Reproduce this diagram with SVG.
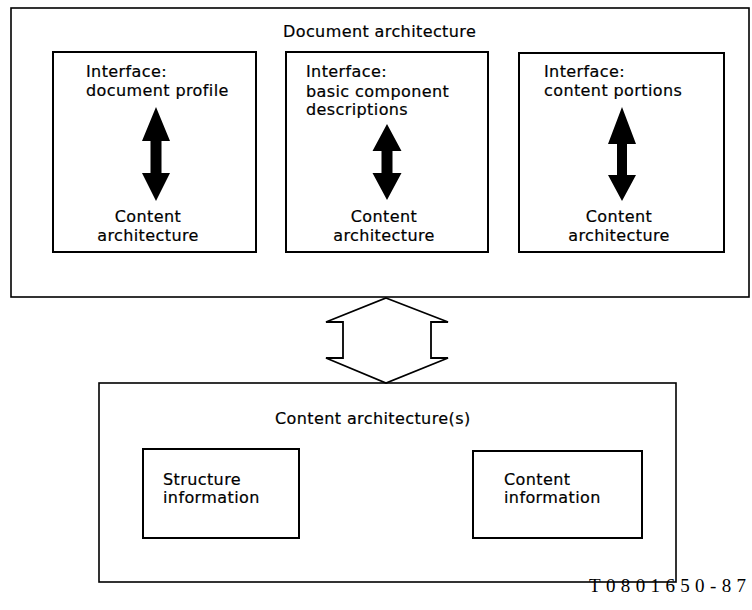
<svg xmlns="http://www.w3.org/2000/svg" width="752" height="610" viewBox="0 0 752 610">
<style>
.box{fill:none;stroke:#000;stroke-width:1.6}
.ibox{fill:none;stroke:#000;stroke-width:2}
.t{font-family:"DejaVu Sans","Liberation Sans",sans-serif;font-size:16px;letter-spacing:0.4px;fill:#000;stroke:#000;stroke-width:0.2px}
.c{text-anchor:middle}
.arr{fill:#000;stroke:none}
.hollow{fill:#fff;stroke:#000;stroke-width:1.8;stroke-linejoin:miter}
.ref{font-family:"Liberation Serif","DejaVu Serif",serif;font-size:19px;fill:#000}
</style>
<rect width="752" height="610" fill="#fff"/>
<g id="doc-arch">
<rect class="box" x="11" y="8" width="738" height="289"/>
<text class="t" x="283" y="37">Document architecture</text>
</g>
<g id="iface1">
<rect class="ibox" x="53" y="52" width="203" height="200"/>
<text class="t" x="86" y="77">Interface:</text>
<text class="t" x="86" y="96">document profile</text>
<text class="t c" x="148" y="222">Content</text>
<text class="t c" x="148" y="241">architecture</text>
</g>
<g id="iface2">
<rect class="ibox" x="286" y="52" width="202" height="200"/>
<text class="t" x="306" y="77">Interface:</text>
<text class="t" x="306" y="97">basic component</text>
<text class="t" x="306" y="115">descriptions</text>
<text class="t c" x="384" y="222">Content</text>
<text class="t c" x="384" y="241">architecture</text>
</g>
<g id="iface3">
<rect class="ibox" x="519" y="53" width="205" height="199"/>
<text class="t" x="544" y="77">Interface:</text>
<text class="t" x="544" y="96">content portions</text>
<text class="t c" x="619" y="222">Content</text>
<text class="t c" x="619" y="241">architecture</text>
</g>
<g id="content-arch">
<rect class="box" x="99" y="383" width="577" height="199"/>
<text class="t" x="275" y="424">Content architecture(s)</text>
</g>
<g id="structure-info">
<rect class="ibox" x="143" y="449" width="156" height="89"/>
<text class="t" x="163" y="485">Structure</text>
<text class="t" x="163" y="503">information</text>
</g>
<g id="content-info">
<rect class="ibox" x="473" y="451" width="169" height="87"/>
<text class="t" x="504" y="485">Content</text>
<text class="t" x="504" y="503">information</text>
</g>
<g id="connectors">
<path class="arr" d="M156,107 L170,141 L161.5,141 L161.5,173 L170,173 L156,201 L142,173 L150.5,173 L150.5,141 L142,141 Z"/>
<path class="arr" d="M387,124 L401.5,151 L392.5,151 L392.5,173 L401.5,173 L387,200 L372.5,173 L381.5,173 L381.5,151 L372.5,151 Z"/>
<path class="arr" d="M622,107 L636,144 L627,144 L627,175 L636,175 L622,201 L608,175 L617,175 L617,144 L608,144 Z"/>
<path class="hollow" d="M386,298 L448,322 L431,322 L431,358 L448,358 L386,383 L326,358 L343,358 L343,322 L326,322 Z"/>
</g>
<text class="ref" x="589" y="592" textLength="157" lengthAdjust="spacing">T0801650-87</text>
</svg>
